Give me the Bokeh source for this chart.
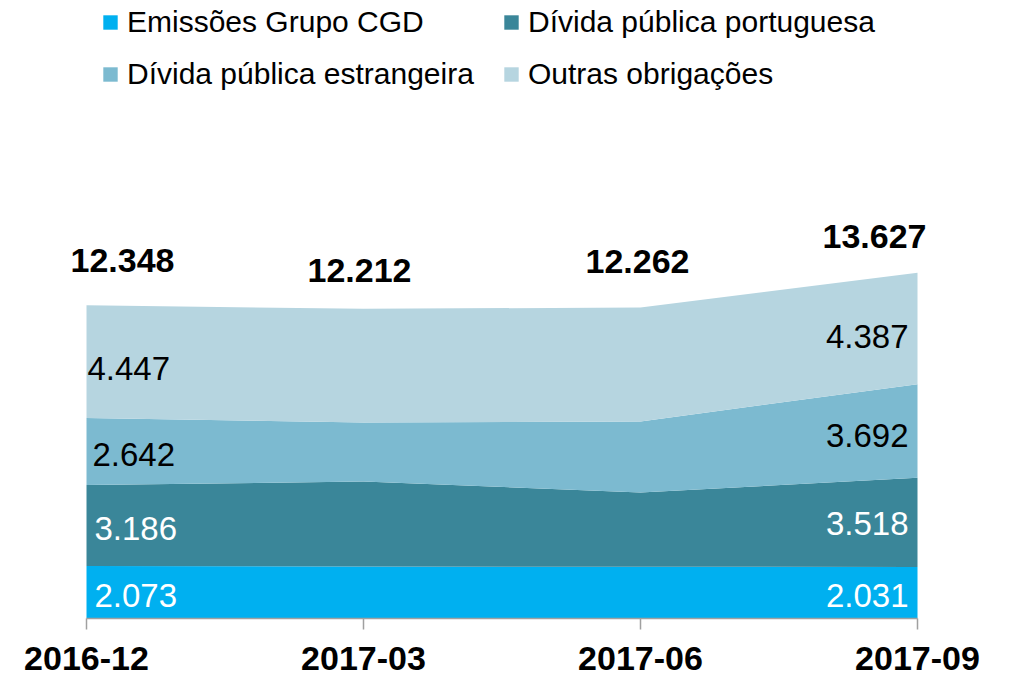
from bokeh.plotting import figure
from bokeh.models import (ColumnDataSource, Legend, LegendItem, FixedTicker,
                          LabelSet, Range1d)
from bokeh.core.properties import value
from bokeh.embed import file_html
from bokeh.resources import INLINE

# ---------------- data ----------------
periods = ["2016-12", "2017-03", "2017-06", "2017-09"]
series_names = ["Emissões Grupo CGD", "Dívida pública portuguesa",
                "Dívida pública estrangeira", "Outras obrigações"]
emissoes = [2073, 2050, 2040, 2031]
divida_pt = [3186, 3350, 2930, 3518]
divida_ext = [2642, 2328, 2801, 3692]
outras = [4447, 4484, 4491, 4387]
totals = [12348, 12212, 12262, 13627]

colors = ["#00B0F0", "#3A8699", "#7CBAD0", "#B6D5E0"]
label_colors = ["white", "white", "black", "black"]
FONT = "Liberation Sans"


def fmt(v):
    return f"{v:,}".replace(",", ".")


xs = list(range(len(periods)))
keys = ["emissoes", "divida_pt", "divida_ext", "outras"]
series = [emissoes, divida_pt, divida_ext, outras]
src = ColumnDataSource(dict(x=xs, **{k: s for k, s in zip(keys, series)}))

# ---------------- geometry (screen) ----------------
W, H = 1010, 678
px_x0, px_x3 = 86, 917          # screen x of first / last period
px_y0 = 618                     # screen y of value 0
units_per_px = 39.43
px_per_x = (px_x3 - px_x0) / 3.0

p = figure(width=W, height=H, output_backend="svg", toolbar_location=None,
           x_range=Range1d(-px_x0 / px_per_x, 3 + (W - px_x3) / px_per_x),
           y_range=Range1d(-(H - px_y0) * units_per_px, px_y0 * units_per_px),
           y_axis_location=None,
           min_border_left=0, min_border_right=0, min_border_top=0,
           min_border_bottom=0)
p.outline_line_color = None
p.grid.visible = False
p.background_fill_color = "white"

renderers = p.varea_stack(stackers=keys, x="x", color=colors, source=src)

# ---------------- x axis ----------------
ax = p.xaxis[0]
ax.fixed_location = 0
ax.bounds = (0, 3)
ax.ticker = FixedTicker(ticks=xs)
ax.major_label_overrides = {i: lab for i, lab in enumerate(periods)}
ax.axis_line_color = "#A0A0A0"
ax.axis_line_width = 1.5
ax.major_tick_line_color = "#A0A0A0"
ax.major_tick_line_width = 1.5
ax.major_tick_in = 0
ax.major_tick_out = 11
ax.minor_tick_line_color = None
ax.major_label_standoff = 17
ax.major_label_text_font = FONT
ax.major_label_text_font_style = "bold"
ax.major_label_text_font_size = "34px"
ax.major_label_text_color = "black"

# ---------------- data labels (first and last period) ----------------
lx, ly, lt, lc, lxo, lyo = [], [], [], [], [], []
left_xoff = [8, 8, 6, 1]
left_yoff = [3, 3, 3, 7]
right_yoff = [3, 1, 5, 8]
for si, s in enumerate(series):
    for idx, xoff, yoffs in ((0, left_xoff[si], left_yoff), (3, -9, right_yoff)):
        below = sum(series[j][idx] for j in range(si))
        lx.append(idx)
        ly.append(below + s[idx] / 2.0)
        lt.append(fmt(s[idx]))
        lc.append(label_colors[si])
        lxo.append(xoff)
        lyo.append(-yoffs[si])
lab_src = ColumnDataSource(dict(x=lx, y=ly, text=lt, color=lc, xo=lxo, yo=lyo,
                                align=["left" if v == 0 else "right" for v in lx]))
p.add_layout(LabelSet(x="x", y="y", text="text", source=lab_src,
                      text_color="color", text_align="align",
                      text_baseline="middle", x_offset="xo", y_offset="yo",
                      text_font=value(FONT), text_font_size="33px"))

# ---------------- totals ----------------
tot_src = ColumnDataSource(dict(x=xs, y=totals, text=[fmt(t) for t in totals],
                                xo=[36, -4, -3, -43], yo=[45, 38, 46, 36]))
p.add_layout(LabelSet(x="x", y="y", text="text", source=tot_src,
                      text_align="center", text_baseline="middle",
                      x_offset="xo", y_offset="yo", text_color="black",
                      text_font=value(FONT), text_font_style="bold",
                      text_font_size="34px"))

# ---------------- legend ----------------
legend_pos = [(101, 639), (502, 639), (101, 587), (502, 587)]
for i, (vx, vy) in enumerate(legend_pos):
    leg = Legend(items=[LegendItem(label=series_names[i], renderers=[renderers[i]])],
                 location=(vx, vy), orientation="horizontal",
                 padding=0, margin=0, spacing=0,
                 border_line_alpha=0, background_fill_alpha=0,
                 glyph_width=18, glyph_height=18, label_standoff=8,
                 label_height=32, label_text_font=FONT,
                 label_text_font_size="30px", label_text_color="black")
    p.add_layout(leg)

open("out.html", "w").write(file_html(p, INLINE))
